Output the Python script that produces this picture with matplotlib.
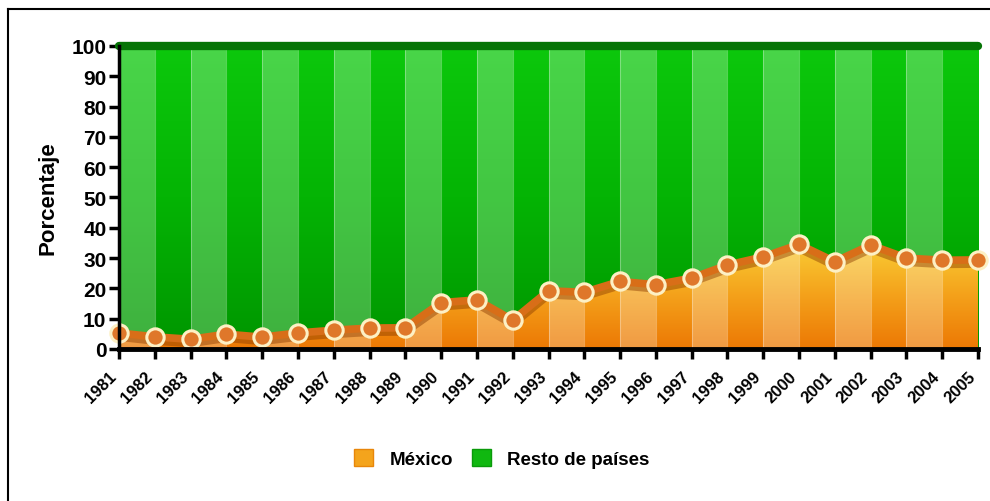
import numpy as np
import matplotlib.pyplot as plt
import matplotlib.patheffects as pe
import matplotlib.transforms as mtrans
from matplotlib.colors import LinearSegmentedColormap
from matplotlib.patches import Rectangle, Polygon
from matplotlib.lines import Line2D

plt.rcParams['font.family'] = ['Liberation Sans', 'DejaVu Sans']

#==================================================

years = np.arange(1981, 2006)
mexico = [5.3, 4.0, 3.2, 4.9, 3.9, 5.3, 6.2, 6.9, 7.0, 15.3, 16.2, 9.5, 19.2,
          18.7, 22.3, 21.2, 23.4, 27.7, 30.4, 34.5, 28.8, 34.3, 30.0, 29.3, 29.4]
total = 100
year_labels = [str(y) for y in years]
yticks = np.arange(0, 101, 10)
series_names = ['México', 'Resto de países']

#==================================================

fig = plt.figure(figsize=(9.9, 5.02), dpi=100)
ax = fig.add_axes([0.1202, 0.3028, 0.8677, 0.6036])

x0, x1 = years[0], years[-1]
ax.set_xlim(x0, x1)
ax.set_ylim(0, total)

# green background (resto de paises), a bit darker towards the bottom
green = LinearSegmentedColormap.from_list('g', ['#009600', '#04b404', '#0cc80c'])
grad = np.linspace(0, 1, 256).reshape(-1, 1)
ax.imshow(grad, cmap=green, aspect='auto', origin='lower',
          extent=[x0, x1, 0, total], zorder=1)

# orange area for Mexico, yellow at the top and orange at the base
orange = LinearSegmentedColormap.from_list('o', ['#ec7804', '#f4a01a', '#f9cc34'])
poly = Polygon(np.vstack([[x0, 0], np.column_stack([years, mexico]), [x1, 0]]),
               closed=True, transform=ax.transData, facecolor='none', edgecolor='none')
ax.add_patch(poly)
img = ax.imshow(grad, cmap=orange, aspect='auto', origin='lower',
                extent=[x0, x1, 0, max(mexico)], zorder=2)
img.set_clip_path(poly)

# alternating light bands and thin separators
for i, y in enumerate(years[:-1]):
	if i % 2 == 0:
		ax.axvspan(y, y + 1, color='white', alpha=0.25, lw=0, zorder=3)
for y in years[1:-1]:
	ax.axvline(y, color='white', alpha=0.3, lw=0.8, zorder=3)

# top edge at 100
ax.plot([x0, x1], [total, total], color='#067406', lw=6, solid_capstyle='round',
        clip_on=False, zorder=4)

# Mexico line with markers
ax.plot(years, mexico, color='#d86e18', lw=5.5, zorder=5, clip_on=False,
        path_effects=[pe.SimpleLineShadow(offset=(0, -3), shadow_color='#8a3a00', alpha=0.45),
                      pe.Normal()])
ax.plot(years, mexico, 'o', ms=12.5, mfc='#df772a', mec='#fdf0c4', mew=2.2,
        zorder=6, clip_on=False)

# axes styling
for s in ['top', 'right']:
	ax.spines[s].set_visible(False)
ax.spines['left'].set_linewidth(2.5)
ax.spines['bottom'].set_linewidth(3.5)
ax.spines['left'].set_zorder(7)
ax.spines['bottom'].set_zorder(7)

ax.set_yticks(yticks)
ax.set_yticklabels([str(t) for t in yticks], fontsize=15, fontweight='bold')
ax.set_xticks(years)
ax.set_xticklabels(year_labels, rotation=45, ha='right', va='center',
                   rotation_mode='anchor', fontsize=12, fontweight='bold')
ax.tick_params(axis='both', direction='out', length=7, width=2.5, pad=2)
ax.tick_params(axis='x', pad=11)
# nudge the year labels a little to the left of their ticks
shift = mtrans.ScaledTranslation(-5 / 100, 0, fig.dpi_scale_trans)
for lab in ax.get_xticklabels():
	lab.set_transform(lab.get_transform() + shift)

ax.set_ylabel('Porcentaje', fontsize=16, fontweight='bold')
ax.yaxis.set_label_coords(-0.071, 0.5)

# legend
handles = [Rectangle((0, 0), 1, 1, facecolor='#f4a41c', edgecolor='#e8860a'),
           Rectangle((0, 0), 1, 1, facecolor='#10b810', edgecolor='#0a9a0a')]
fig.legend(handles, series_names, loc='center', bbox_to_anchor=(0.507, 0.084),
           ncol=2, frameon=False, handlelength=1.0, handleheight=1.0,
           handletextpad=0.9, columnspacing=1.0, prop={'weight': 'bold', 'size': 13.5})

# frame lines on the left and top
fig.add_artist(Line2D([0.0085, 0.0085], [0.0, 0.981], color='black', lw=1.5))
fig.add_artist(Line2D([0.0085, 1.0], [0.981, 0.981], color='black', lw=1.5))

fig.savefig('out.png', dpi=100)
